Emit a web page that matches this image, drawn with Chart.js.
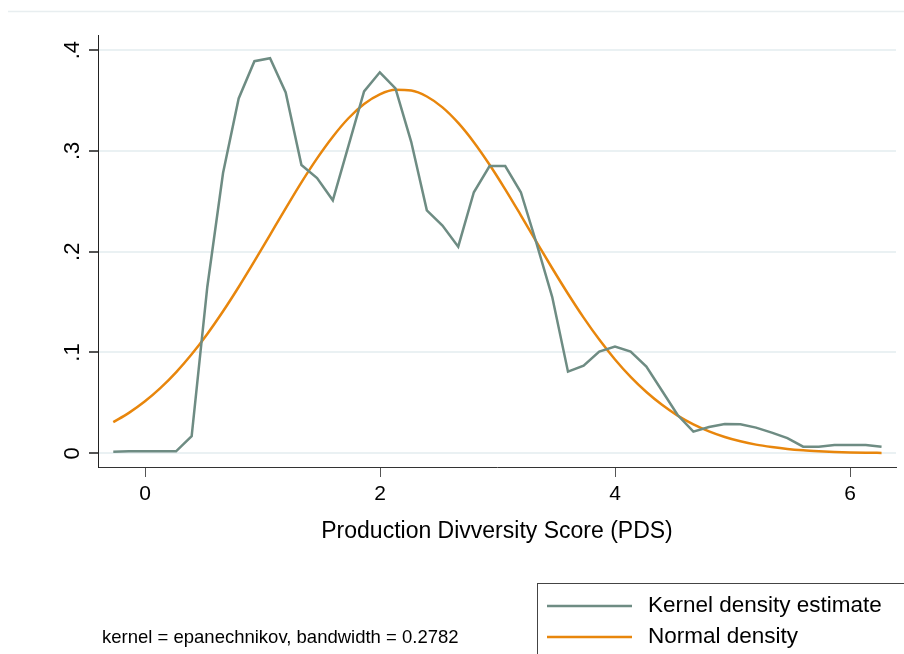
<!DOCTYPE html>
<html>
<head>
<meta charset="utf-8">
<script src="https://cdn.jsdelivr.net/npm/chart.js@4"></script>
<style>
  html, body { margin: 0; padding: 0; background: #fff; }
  canvas { display: block; }
</style>
</head>
<body>
<canvas id="kdensity-chart" width="904" height="654"></canvas>
<script>
// evaluation points of the density (Stata kdensity, n = 50)
const xValues = [-0.27, -0.137, -0.003, 0.13, 0.264, 0.397, 0.53, 0.664, 0.797, 0.931,
    1.064, 1.197, 1.331, 1.464, 1.598, 1.731, 1.864, 1.998, 2.131, 2.265,
    2.398, 2.531, 2.665, 2.798, 2.932, 3.065, 3.198, 3.332, 3.465, 3.599,
    3.732, 3.865, 3.999, 4.132, 4.266, 4.399, 4.532, 4.666, 4.799, 4.933,
    5.066, 5.199, 5.333, 5.466, 5.6, 5.733, 5.866, 6.0, 6.133, 6.267];

const kernelDensity = [0.0016, 0.002, 0.002, 0.002, 0.002, 0.017, 0.165, 0.278, 0.352, 0.389,
    0.392, 0.358, 0.286, 0.273, 0.251, 0.305, 0.359, 0.378, 0.362, 0.309,
    0.241, 0.226, 0.205, 0.259, 0.285, 0.285, 0.259, 0.208, 0.155, 0.081,
    0.087, 0.101, 0.106, 0.101, 0.086, 0.062, 0.038, 0.0215, 0.026, 0.029,
    0.0288, 0.0255, 0.0205, 0.015, 0.0066, 0.0066, 0.0083, 0.0083, 0.0083, 0.0066];

const normalDensity = [0.0309, 0.0401, 0.0513, 0.0646, 0.0803, 0.0982, 0.1184, 0.1409, 0.165, 0.1906,
    0.2168, 0.243, 0.2688, 0.2926, 0.3141, 0.3324, 0.3465, 0.3561, 0.3606, 0.3599,
    0.354, 0.3432, 0.3278, 0.3087, 0.2863, 0.2619, 0.2361, 0.2096, 0.1836, 0.1583,
    0.1346, 0.1128, 0.0931, 0.0758, 0.0608, 0.0481, 0.0374, 0.0287, 0.0218, 0.0162,
    0.0119, 0.0086, 0.0062, 0.0043, 0.003, 0.0021, 0.0014, 0.0009, 0.0006, 0.0004];

const xTicks = [0, 2, 4, 6];
const yTicks = [0, 0.1, 0.2, 0.3, 0.4];
const yTickLabels = ["0", ".1", ".2", ".3", ".4"];

const xTitle = "Production Divversity Score (PDS)";
const noteText = "kernel = epanechnikov, bandwidth = 0.2782";

const FONT = "'Liberation Sans', Arial, sans-serif";
Chart.defaults.font.family = FONT;
Chart.defaults.color = "#000";

function toPoints(ys){
    return xValues.map((x, i) => ({ x: x, y: ys[i] }));
}

// stata-ish extras: rotated y labels, note, boxed legend
const stataDecor = {
    id: "stataDecor",
    afterDraw(chart){
        const ctx = chart.ctx;
        const yScale = chart.scales.y;

        ctx.save();
        // faint outer line at the top
        ctx.strokeStyle = "#e8eef0";
        ctx.lineWidth = 1.5;
        ctx.beginPath();
        ctx.moveTo(8, 11.5);
        ctx.lineTo(904, 11.5);
        ctx.stroke();

        // y tick labels, turned 90 degrees
        ctx.fillStyle = "#000";
        ctx.font = "22px " + FONT;
        ctx.textAlign = "center";
        ctx.textBaseline = "alphabetic";
        yTicks.forEach((v, i) => {
            const py = yScale.getPixelForValue(v);
            ctx.save();
            ctx.translate(79, py);
            ctx.rotate(-Math.PI / 2);
            ctx.fillText(yTickLabels[i], 0, 0);
            ctx.restore();
        });

        // note
        ctx.font = "18.5px " + FONT;
        ctx.textAlign = "left";
        ctx.textBaseline = "middle";
        ctx.fillText(noteText, 102, 638);

        // legend box
        ctx.strokeStyle = "#444";
        ctx.lineWidth = 1;
        ctx.strokeRect(537.5, 583.5, 420, 120);
        ctx.font = "22.5px " + FONT;
        chart.data.datasets.forEach((ds, i) => {
            const ly = 606 + i * 31;
            ctx.strokeStyle = ds.borderColor;
            ctx.lineWidth = 2.5;
            ctx.beginPath();
            ctx.moveTo(547, ly);
            ctx.lineTo(632, ly);
            ctx.stroke();
            ctx.fillStyle = "#000";
            ctx.fillText(ds.label, 648, ly);
        });
        ctx.restore();
    }
};

const canvas = document.getElementById("kdensity-chart");

new Chart(canvas, {
    type: "line",
    data: {
        datasets: [{
            label: "Kernel density estimate",
            data: toPoints(kernelDensity),
            borderColor: "#6e8c83",
            borderWidth: 2.5,
            pointRadius: 0,
            tension: 0,
            fill: false
        },
        {
            label: "Normal density",
            data: toPoints(normalDensity),
            borderColor: "#e8860c",
            borderWidth: 2.5,
            pointRadius: 0,
            cubicInterpolationMode: "monotone",
            fill: false
        }]
    },
    options: {
        responsive: false,
        animation: false,
        devicePixelRatio: 1,
        layout: {
            padding: { top: 35, right: 8, bottom: 109, left: 0 }
        },
        plugins: {
            legend: { display: false },
            tooltip: { enabled: false }
        },
        scales: {
            x: {
                type: "linear",
                min: -0.4,
                max: 6.39,
                afterBuildTicks: (scale) => {
                    scale.ticks = xTicks.map(v => ({ value: v }));
                },
                afterFit: (scale) => {
                    scale.height = 78;
                },
                grid: {
                    drawOnChartArea: false,
                    drawTicks: true,
                    tickLength: 10,
                    tickColor: "#555"
                },
                border: { color: "#333", width: 1 },
                ticks: {
                    font: { size: 21 },
                    color: "#000",
                    padding: 5,
                    maxRotation: 0
                },
                title: {
                    display: true,
                    text: xTitle,
                    font: { size: 23 },
                    color: "#000",
                    padding: { top: 0, bottom: 0 }
                }
            },
            y: {
                min: -0.0136,
                max: 0.415,
                afterBuildTicks: (scale) => {
                    scale.ticks = yTicks.map(v => ({ value: v }));
                },
                afterFit: (scale) => {
                    scale.width = 98;
                },
                grid: {
                    color: "#eaf1f3",
                    lineWidth: 2,
                    tickLength: 9,
                    tickColor: "#555"
                },
                border: { color: "#222", width: 1 },
                ticks: { display: false }
            }
        }
    },
    plugins: [stataDecor]
});
</script>
</body>
</html>
